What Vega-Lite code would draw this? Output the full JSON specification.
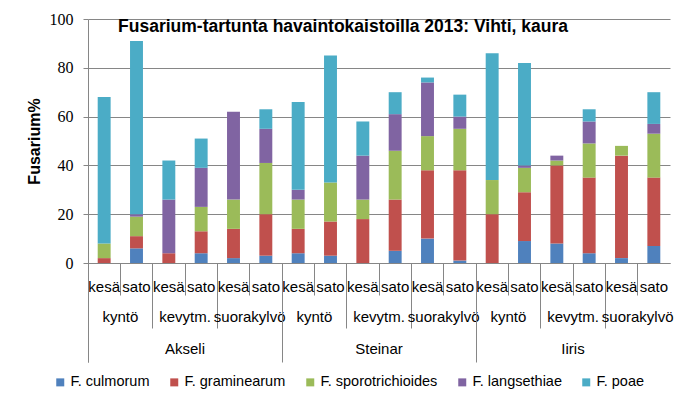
{
 "$schema": "https://vega.github.io/schema/vega-lite/v6.json",
 "width": 582,
 "height": 244,
 "autosize": {"type": "none"},
 "padding": {"left": 88, "top": 19, "right": 19, "bottom": 148},
 "background": "white",
 "config": {
  "font": "Liberation Sans",
  "view": {"stroke": null},
  "axis": {"labelColor": "black", "titleColor": "black", "domainColor": "#868686", "tickColor": "#868686", "gridColor": "#868686"},
  "axisY": {"labelFont": "Liberation Serif", "labelFontSize": 16}
 },
 "title": {"text": "Fusarium-tartunta havaintokaistoilla 2013: Vihti, kaura", "fontSize": 17.5, "fontWeight": "bold", "anchor": "middle", "frame": "group", "dx": -36, "offset": -24, "color": "black"},
 "data": {"values": [
  {"b":"Akseli|kyntö|kesä","g":"Akseli|kyntö","v":"Akseli","sp":"F. culmorum","o":1,"val":0},
  {"b":"Akseli|kyntö|kesä","g":"Akseli|kyntö","v":"Akseli","sp":"F. graminearum","o":2,"val":2},
  {"b":"Akseli|kyntö|kesä","g":"Akseli|kyntö","v":"Akseli","sp":"F. sporotrichioides","o":3,"val":6},
  {"b":"Akseli|kyntö|kesä","g":"Akseli|kyntö","v":"Akseli","sp":"F. langsethiae","o":4,"val":0},
  {"b":"Akseli|kyntö|kesä","g":"Akseli|kyntö","v":"Akseli","sp":"F. poae","o":5,"val":60},
  {"b":"Akseli|kyntö|sato","g":"Akseli|kyntö","v":"Akseli","sp":"F. culmorum","o":1,"val":6},
  {"b":"Akseli|kyntö|sato","g":"Akseli|kyntö","v":"Akseli","sp":"F. graminearum","o":2,"val":5},
  {"b":"Akseli|kyntö|sato","g":"Akseli|kyntö","v":"Akseli","sp":"F. sporotrichioides","o":3,"val":8},
  {"b":"Akseli|kyntö|sato","g":"Akseli|kyntö","v":"Akseli","sp":"F. langsethiae","o":4,"val":1},
  {"b":"Akseli|kyntö|sato","g":"Akseli|kyntö","v":"Akseli","sp":"F. poae","o":5,"val":71},
  {"b":"Akseli|kevytm.|kesä","g":"Akseli|kevytm.","v":"Akseli","sp":"F. culmorum","o":1,"val":0},
  {"b":"Akseli|kevytm.|kesä","g":"Akseli|kevytm.","v":"Akseli","sp":"F. graminearum","o":2,"val":4},
  {"b":"Akseli|kevytm.|kesä","g":"Akseli|kevytm.","v":"Akseli","sp":"F. sporotrichioides","o":3,"val":0},
  {"b":"Akseli|kevytm.|kesä","g":"Akseli|kevytm.","v":"Akseli","sp":"F. langsethiae","o":4,"val":22},
  {"b":"Akseli|kevytm.|kesä","g":"Akseli|kevytm.","v":"Akseli","sp":"F. poae","o":5,"val":16},
  {"b":"Akseli|kevytm.|sato","g":"Akseli|kevytm.","v":"Akseli","sp":"F. culmorum","o":1,"val":4},
  {"b":"Akseli|kevytm.|sato","g":"Akseli|kevytm.","v":"Akseli","sp":"F. graminearum","o":2,"val":9},
  {"b":"Akseli|kevytm.|sato","g":"Akseli|kevytm.","v":"Akseli","sp":"F. sporotrichioides","o":3,"val":10},
  {"b":"Akseli|kevytm.|sato","g":"Akseli|kevytm.","v":"Akseli","sp":"F. langsethiae","o":4,"val":16},
  {"b":"Akseli|kevytm.|sato","g":"Akseli|kevytm.","v":"Akseli","sp":"F. poae","o":5,"val":12},
  {"b":"Akseli|suorakylvö|kesä","g":"Akseli|suorakylvö","v":"Akseli","sp":"F. culmorum","o":1,"val":2},
  {"b":"Akseli|suorakylvö|kesä","g":"Akseli|suorakylvö","v":"Akseli","sp":"F. graminearum","o":2,"val":12},
  {"b":"Akseli|suorakylvö|kesä","g":"Akseli|suorakylvö","v":"Akseli","sp":"F. sporotrichioides","o":3,"val":12},
  {"b":"Akseli|suorakylvö|kesä","g":"Akseli|suorakylvö","v":"Akseli","sp":"F. langsethiae","o":4,"val":36},
  {"b":"Akseli|suorakylvö|kesä","g":"Akseli|suorakylvö","v":"Akseli","sp":"F. poae","o":5,"val":0},
  {"b":"Akseli|suorakylvö|sato","g":"Akseli|suorakylvö","v":"Akseli","sp":"F. culmorum","o":1,"val":3},
  {"b":"Akseli|suorakylvö|sato","g":"Akseli|suorakylvö","v":"Akseli","sp":"F. graminearum","o":2,"val":17},
  {"b":"Akseli|suorakylvö|sato","g":"Akseli|suorakylvö","v":"Akseli","sp":"F. sporotrichioides","o":3,"val":21},
  {"b":"Akseli|suorakylvö|sato","g":"Akseli|suorakylvö","v":"Akseli","sp":"F. langsethiae","o":4,"val":14},
  {"b":"Akseli|suorakylvö|sato","g":"Akseli|suorakylvö","v":"Akseli","sp":"F. poae","o":5,"val":8},
  {"b":"Steinar|kyntö|kesä","g":"Steinar|kyntö","v":"Steinar","sp":"F. culmorum","o":1,"val":4},
  {"b":"Steinar|kyntö|kesä","g":"Steinar|kyntö","v":"Steinar","sp":"F. graminearum","o":2,"val":10},
  {"b":"Steinar|kyntö|kesä","g":"Steinar|kyntö","v":"Steinar","sp":"F. sporotrichioides","o":3,"val":12},
  {"b":"Steinar|kyntö|kesä","g":"Steinar|kyntö","v":"Steinar","sp":"F. langsethiae","o":4,"val":4},
  {"b":"Steinar|kyntö|kesä","g":"Steinar|kyntö","v":"Steinar","sp":"F. poae","o":5,"val":36},
  {"b":"Steinar|kyntö|sato","g":"Steinar|kyntö","v":"Steinar","sp":"F. culmorum","o":1,"val":3},
  {"b":"Steinar|kyntö|sato","g":"Steinar|kyntö","v":"Steinar","sp":"F. graminearum","o":2,"val":14},
  {"b":"Steinar|kyntö|sato","g":"Steinar|kyntö","v":"Steinar","sp":"F. sporotrichioides","o":3,"val":16},
  {"b":"Steinar|kyntö|sato","g":"Steinar|kyntö","v":"Steinar","sp":"F. langsethiae","o":4,"val":0},
  {"b":"Steinar|kyntö|sato","g":"Steinar|kyntö","v":"Steinar","sp":"F. poae","o":5,"val":52},
  {"b":"Steinar|kevytm.|kesä","g":"Steinar|kevytm.","v":"Steinar","sp":"F. culmorum","o":1,"val":0},
  {"b":"Steinar|kevytm.|kesä","g":"Steinar|kevytm.","v":"Steinar","sp":"F. graminearum","o":2,"val":18},
  {"b":"Steinar|kevytm.|kesä","g":"Steinar|kevytm.","v":"Steinar","sp":"F. sporotrichioides","o":3,"val":8},
  {"b":"Steinar|kevytm.|kesä","g":"Steinar|kevytm.","v":"Steinar","sp":"F. langsethiae","o":4,"val":18},
  {"b":"Steinar|kevytm.|kesä","g":"Steinar|kevytm.","v":"Steinar","sp":"F. poae","o":5,"val":14},
  {"b":"Steinar|kevytm.|sato","g":"Steinar|kevytm.","v":"Steinar","sp":"F. culmorum","o":1,"val":5},
  {"b":"Steinar|kevytm.|sato","g":"Steinar|kevytm.","v":"Steinar","sp":"F. graminearum","o":2,"val":21},
  {"b":"Steinar|kevytm.|sato","g":"Steinar|kevytm.","v":"Steinar","sp":"F. sporotrichioides","o":3,"val":20},
  {"b":"Steinar|kevytm.|sato","g":"Steinar|kevytm.","v":"Steinar","sp":"F. langsethiae","o":4,"val":15},
  {"b":"Steinar|kevytm.|sato","g":"Steinar|kevytm.","v":"Steinar","sp":"F. poae","o":5,"val":9},
  {"b":"Steinar|suorakylvö|kesä","g":"Steinar|suorakylvö","v":"Steinar","sp":"F. culmorum","o":1,"val":10},
  {"b":"Steinar|suorakylvö|kesä","g":"Steinar|suorakylvö","v":"Steinar","sp":"F. graminearum","o":2,"val":28},
  {"b":"Steinar|suorakylvö|kesä","g":"Steinar|suorakylvö","v":"Steinar","sp":"F. sporotrichioides","o":3,"val":14},
  {"b":"Steinar|suorakylvö|kesä","g":"Steinar|suorakylvö","v":"Steinar","sp":"F. langsethiae","o":4,"val":22},
  {"b":"Steinar|suorakylvö|kesä","g":"Steinar|suorakylvö","v":"Steinar","sp":"F. poae","o":5,"val":2},
  {"b":"Steinar|suorakylvö|sato","g":"Steinar|suorakylvö","v":"Steinar","sp":"F. culmorum","o":1,"val":1},
  {"b":"Steinar|suorakylvö|sato","g":"Steinar|suorakylvö","v":"Steinar","sp":"F. graminearum","o":2,"val":37},
  {"b":"Steinar|suorakylvö|sato","g":"Steinar|suorakylvö","v":"Steinar","sp":"F. sporotrichioides","o":3,"val":17},
  {"b":"Steinar|suorakylvö|sato","g":"Steinar|suorakylvö","v":"Steinar","sp":"F. langsethiae","o":4,"val":5},
  {"b":"Steinar|suorakylvö|sato","g":"Steinar|suorakylvö","v":"Steinar","sp":"F. poae","o":5,"val":9},
  {"b":"Iiris|kyntö|kesä","g":"Iiris|kyntö","v":"Iiris","sp":"F. culmorum","o":1,"val":0},
  {"b":"Iiris|kyntö|kesä","g":"Iiris|kyntö","v":"Iiris","sp":"F. graminearum","o":2,"val":20},
  {"b":"Iiris|kyntö|kesä","g":"Iiris|kyntö","v":"Iiris","sp":"F. sporotrichioides","o":3,"val":14},
  {"b":"Iiris|kyntö|kesä","g":"Iiris|kyntö","v":"Iiris","sp":"F. langsethiae","o":4,"val":0},
  {"b":"Iiris|kyntö|kesä","g":"Iiris|kyntö","v":"Iiris","sp":"F. poae","o":5,"val":52},
  {"b":"Iiris|kyntö|sato","g":"Iiris|kyntö","v":"Iiris","sp":"F. culmorum","o":1,"val":9},
  {"b":"Iiris|kyntö|sato","g":"Iiris|kyntö","v":"Iiris","sp":"F. graminearum","o":2,"val":20},
  {"b":"Iiris|kyntö|sato","g":"Iiris|kyntö","v":"Iiris","sp":"F. sporotrichioides","o":3,"val":10},
  {"b":"Iiris|kyntö|sato","g":"Iiris|kyntö","v":"Iiris","sp":"F. langsethiae","o":4,"val":1},
  {"b":"Iiris|kyntö|sato","g":"Iiris|kyntö","v":"Iiris","sp":"F. poae","o":5,"val":42},
  {"b":"Iiris|kevytm.|kesä","g":"Iiris|kevytm.","v":"Iiris","sp":"F. culmorum","o":1,"val":8},
  {"b":"Iiris|kevytm.|kesä","g":"Iiris|kevytm.","v":"Iiris","sp":"F. graminearum","o":2,"val":32},
  {"b":"Iiris|kevytm.|kesä","g":"Iiris|kevytm.","v":"Iiris","sp":"F. sporotrichioides","o":3,"val":2},
  {"b":"Iiris|kevytm.|kesä","g":"Iiris|kevytm.","v":"Iiris","sp":"F. langsethiae","o":4,"val":2},
  {"b":"Iiris|kevytm.|kesä","g":"Iiris|kevytm.","v":"Iiris","sp":"F. poae","o":5,"val":0},
  {"b":"Iiris|kevytm.|sato","g":"Iiris|kevytm.","v":"Iiris","sp":"F. culmorum","o":1,"val":4},
  {"b":"Iiris|kevytm.|sato","g":"Iiris|kevytm.","v":"Iiris","sp":"F. graminearum","o":2,"val":31},
  {"b":"Iiris|kevytm.|sato","g":"Iiris|kevytm.","v":"Iiris","sp":"F. sporotrichioides","o":3,"val":14},
  {"b":"Iiris|kevytm.|sato","g":"Iiris|kevytm.","v":"Iiris","sp":"F. langsethiae","o":4,"val":9},
  {"b":"Iiris|kevytm.|sato","g":"Iiris|kevytm.","v":"Iiris","sp":"F. poae","o":5,"val":5},
  {"b":"Iiris|suorakylvö|kesä","g":"Iiris|suorakylvö","v":"Iiris","sp":"F. culmorum","o":1,"val":2},
  {"b":"Iiris|suorakylvö|kesä","g":"Iiris|suorakylvö","v":"Iiris","sp":"F. graminearum","o":2,"val":42},
  {"b":"Iiris|suorakylvö|kesä","g":"Iiris|suorakylvö","v":"Iiris","sp":"F. sporotrichioides","o":3,"val":4},
  {"b":"Iiris|suorakylvö|kesä","g":"Iiris|suorakylvö","v":"Iiris","sp":"F. langsethiae","o":4,"val":0},
  {"b":"Iiris|suorakylvö|kesä","g":"Iiris|suorakylvö","v":"Iiris","sp":"F. poae","o":5,"val":0},
  {"b":"Iiris|suorakylvö|sato","g":"Iiris|suorakylvö","v":"Iiris","sp":"F. culmorum","o":1,"val":7},
  {"b":"Iiris|suorakylvö|sato","g":"Iiris|suorakylvö","v":"Iiris","sp":"F. graminearum","o":2,"val":28},
  {"b":"Iiris|suorakylvö|sato","g":"Iiris|suorakylvö","v":"Iiris","sp":"F. sporotrichioides","o":3,"val":18},
  {"b":"Iiris|suorakylvö|sato","g":"Iiris|suorakylvö","v":"Iiris","sp":"F. langsethiae","o":4,"val":4},
  {"b":"Iiris|suorakylvö|sato","g":"Iiris|suorakylvö","v":"Iiris","sp":"F. poae","o":5,"val":13}
 ]},
 "layer": [
  {
   "mark": {"type": "bar", "width": {"band": 0.4}},
   "encoding": {
    "x": {"field": "b", "type": "nominal", "sort": null,
     "scale": {"paddingInner": 0, "paddingOuter": 0},
     "axis": {"orient": "bottom", "title": null, "labelExpr": "split(datum.label,'|')[2]", "labelAngle": 0, "bandPosition": 0, "tickExtra": true, "tickSize": 32, "labelPadding": -16, "labelFontSize": 15, "labelOverlap": false, "labelBound": false, "grid": false}},
    "y": {"field": "val", "type": "quantitative", "stack": "zero",
     "scale": {"domain": [0, 100], "nice": false},
     "axis": {"title": "Fusarium%", "titleFontSize": 16, "titleFontWeight": "bold", "titlePadding": 7, "values": [0, 20, 40, 60, 80, 100], "labelFont": "Liberation Serif", "labelFontSize": 16, "tickSize": 5, "labelPadding": 10, "grid": true}},
    "color": {"field": "sp", "type": "nominal",
     "scale": {"domain": ["F. culmorum", "F. graminearum", "F. sporotrichioides", "F. langsethiae", "F. poae"], "range": ["#4F81BD", "#C0504D", "#9BBB59", "#8064A2", "#4BACC6"]},
     "legend": {"title": null, "orient": "none", "legendX": -35, "legendY": 356, "direction": "horizontal", "symbolType": "square", "symbolSize": 64, "symbolStrokeWidth": 0, "labelFontSize": 14.5, "labelColor": "black", "columnPadding": 17, "labelOffset": 3}},
    "order": {"field": "o", "type": "quantitative", "sort": "ascending"}
   }
  },
  {
   "mark": {"type": "point", "opacity": 0},
   "encoding": {
    "x": {"field": "g", "type": "nominal", "sort": null,
     "scale": {"type": "band", "paddingInner": 0, "paddingOuter": 0},
     "axis": {"orient": "bottom", "title": null, "labelExpr": "split(datum.label,'|')[1]", "labelAngle": 0, "bandPosition": 0, "tickExtra": true, "tickSize": 65, "labelPadding": -19, "labelFontSize": 15, "labelOverlap": false, "labelBound": false, "domain": false, "grid": false}}
   }
  },
  {
   "mark": {"type": "point", "opacity": 0},
   "encoding": {
    "x": {"field": "v", "type": "nominal", "sort": null,
     "scale": {"type": "band", "paddingInner": 0, "paddingOuter": 0},
     "axis": {"orient": "bottom", "title": null, "labelAngle": 0, "bandPosition": 0, "tickExtra": true, "tickSize": 99, "labelPadding": -21, "labelFontSize": 15, "labelOverlap": false, "labelBound": false, "domain": false, "grid": false}}
   }
  }
 ],
 "resolve": {"scale": {"x": "independent"}, "axis": {"x": "independent"}}
}
